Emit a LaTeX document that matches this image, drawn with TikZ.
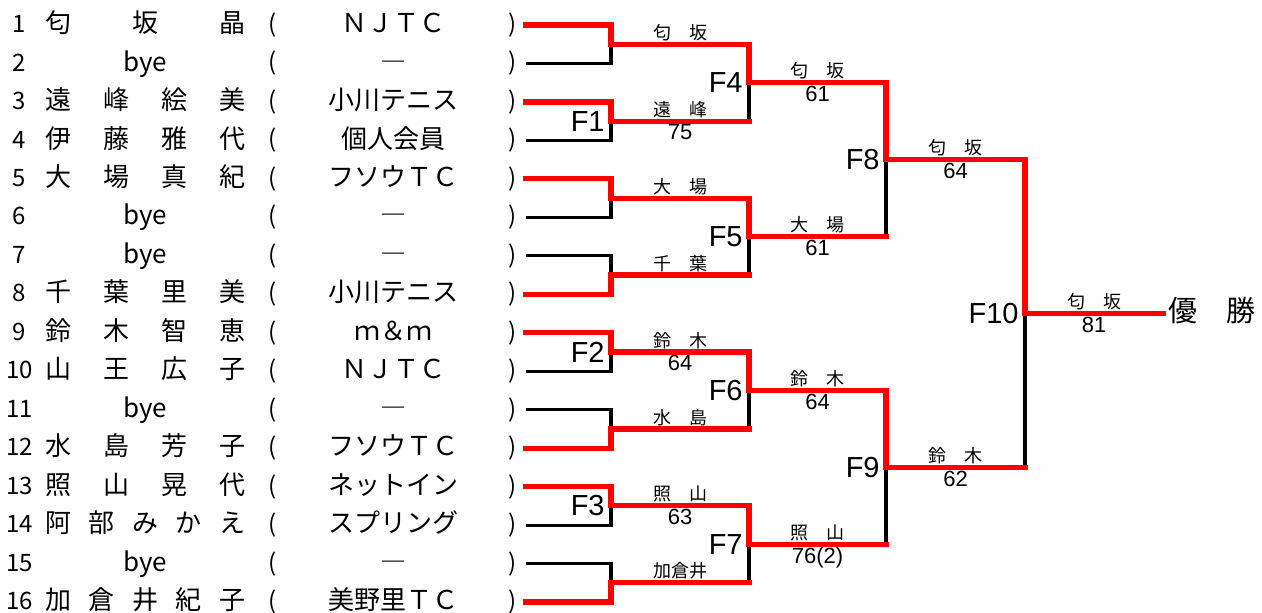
\documentclass[tikz,border=0pt]{standalone}
\usepackage{fontspec}
\setmainfont{Noto Sans CJK JP}
\newfontfamily\arialfont{Liberation Sans}
\usepackage{tikz}
\usetikzlibrary{calc}

\newcommand\rowfont{\fontsize{13}{13}\selectfont}
\tikzset{
	win/.style={draw=red, line width=2.6pt, line cap=rect},
	lose/.style={draw=black, line width=1.6pt},
	rowtext/.style={inner sep=0pt, text height=.88em, text depth=.12em, font=\rowfont},
	paren/.style={inner sep=0pt, font=\fontsize{12}{12}\selectfont},
	flabel/.style={anchor=east, inner sep=0pt, font=\arialfont\fontsize{14.5}{16}\selectfont},
	wname/.style={anchor=south, inner sep=0pt, font=\fontsize{9}{10}\selectfont},
	wscore/.style={anchor=north, inner sep=0pt, font=\arialfont\fontsize{11}{12}\selectfont},
}

\begin{document}
\begin{tikzpicture}[x=0.5pt, y=-0.5pt]
	\useasboundingbox (0,0) rectangle (1262,613);

	% entries
	\foreach \i/\nm/\club in {
		1/{匂\hfill 坂\hfill 晶}/ＮＪＴＣ,
		2/{\hfill bye\hfill}/―,
		3/{遠\hfill 峰\hfill 絵\hfill 美}/小川テニス,
		4/{伊\hfill 藤\hfill 雅\hfill 代}/個人会員,
		5/{大\hfill 場\hfill 真\hfill 紀}/フソウＴＣ,
		6/{\hfill bye\hfill}/―,
		7/{\hfill bye\hfill}/―,
		8/{千\hfill 葉\hfill 里\hfill 美}/小川テニス,
		9/{鈴\hfill 木\hfill 智\hfill 恵}/ｍ＆ｍ,
		10/{山\hfill 王\hfill 広\hfill 子}/ＮＪＴＣ,
		11/{\hfill bye\hfill}/―,
		12/{水\hfill 島\hfill 芳\hfill 子}/フソウＴＣ,
		13/{照\hfill 山\hfill 晃\hfill 代}/ネットイン,
		14/{阿\hfill 部\hfill み\hfill か\hfill え}/スプリング,
		15/{\hfill bye\hfill}/―,
		16/{加\hfill 倉\hfill 井\hfill 紀\hfill 子}/美野里ＴＣ}
		{
		\pgfmathsetmacro\y{25+(\i-1)*38.47}
		\coordinate (e\i) at (526,\y);
		\node[rowtext, font=\fontsize{12}{12}\selectfont] (num\i) at (19.5,\y) {\i};
		\node[rowtext, anchor=west] (name\i) at (45,\y) {\makebox[100pt][s]{\nm}};
		\node[paren] (lp\i) at (272.5,\y) {(};
		\node[rowtext] (club\i) at (393,\y) {\club};
		\node[paren] (rp\i) at (512.5,\y) {)};
		}

	% match points
	\foreach \k in {1,...,8}
		\coordinate (a\k) at (611,{25+(2*\k-1.5)*38.47});
	\foreach \k in {1,...,4}
		\coordinate (b\k) at (749,{25+(4*\k-2.5)*38.47});
	\foreach \k in {1,2}
		\coordinate (c\k) at (886,{25+(8*\k-4.5)*38.47});
	\coordinate (d) at (1025,{25+7.5*38.47});
	\node[anchor=west, inner sep=2.5pt, text height=.88em, text depth=.12em,
		font=\fontsize{14.5}{15}\selectfont] (yusho) at ($(d)+(138,0)$) {優　勝};

	% losers
	\foreach \i/\m in {2/a1,4/a2,6/a3,7/a4,10/a5,11/a6,14/a7,15/a8}
		\draw[lose] (e\i) -| (\m);
	\foreach \p/\m in {a2/b1,a4/b2,a6/b3,a8/b4,b2/c1,b4/c2,c2/d}
		\draw[lose] (\p-|\m) -- (\m);

	% winners
	\draw[win] (e1) -| (a1) -| (b1) -| (c1) -| (d) -- (yusho);
	\draw[win] (e3) -| (a2) -- (a2-|b1);
	\draw[win] (e5) -| (a3) -| (b2) -- (b2-|c1);
	\draw[win] (e8) -| (a4) -- (a4-|b2);
	\draw[win] (e9) -| (a5) -| (b3) -| (c2) -- (c2-|d);
	\draw[win] (e12) -| (a6) -- (a6-|b3);
	\draw[win] (e13) -| (a7) -| (b4) -- (b4-|c2);
	\draw[win] (e16) -| (a8) -- (a8-|b4);

	% match labels
	\foreach \m/\f in {a2/F1,a5/F2,a7/F3,b1/F4,b2/F5,b3/F6,b4/F7,c1/F8,c2/F9,d/F10}
		\node[flabel] (\f) at ($(\m)+(-6,0)$) {\f};

	% results
	\foreach \m/\n/\w/\s in {
		a1/b1/{匂　坂}/{}, a2/b1/{遠　峰}/75, a3/b2/{大　場}/{}, a4/b2/{千　葉}/{},
		a5/b3/{鈴　木}/64, a6/b3/{水　島}/{}, a7/b4/{照　山}/63, a8/b4/{加倉井}/{},
		b1/c1/{匂　坂}/61, b2/c1/{大　場}/61, b3/c2/{鈴　木}/64, b4/c2/{照　山}/76(2),
		c1/d/{匂　坂}/64, c2/d/{鈴　木}/62}
		{
		\node[wname] (w\m) at ($(\m)!.5!(\m-|\n)+(0,-3)$) {\w};
		\node[wscore] (s\m) at ($(\m)!.5!(\m-|\n)+(0,3)$) {\s};
		}
	\node[wname] (wd) at ($(d)!.5!(yusho.west)+(0,-3)$) {匂　坂};
	\node[wscore] (sd) at ($(d)!.5!(yusho.west)+(0,3)$) {81};
\end{tikzpicture}
\end{document}
